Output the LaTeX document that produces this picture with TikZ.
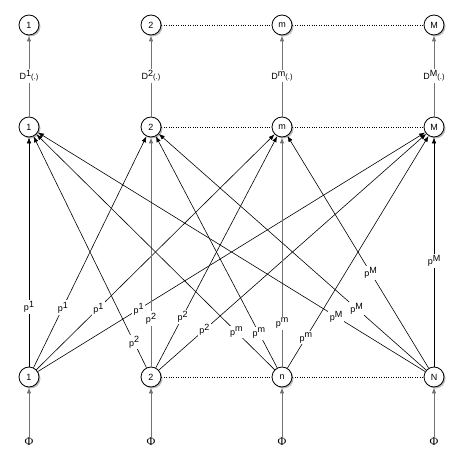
\documentclass[tikz,border=0pt]{standalone}
\usepackage{fontspec}
\setmainfont{Liberation Sans}
\newfontfamily\phifont{Liberation Serif}
\usepackage{tikz}
\usetikzlibrary{arrows.meta,shadows}
\newcommand{\wlab}[2]{#1\raisebox{3.2pt}{#2}}
\newcommand{\dlab}[1]{D\raisebox{3.2pt}{#1}{\fontsize{7.5}{8}\selectfont(.)}}
\tikzset{
  unitnode/.style={circle, draw, thick, fill=white, minimum size=20pt, inner sep=0pt, font=\fontsize{9}{10}\selectfont,
    drop shadow={shadow xshift=1.5pt, shadow yshift=-1.5pt, opacity=0.45, fill=black!60}},
  flowarrow/.style={-{Latex[length=6pt,width=4.5pt]}, semithick},
  softarrow/.style={-{Latex[length=6pt,width=4.5pt]}, thick, draw=black!55},
  dotline/.style={dotted, thin},
  relabel/.style={font=\fontsize{9}{10}\selectfont, text=black, fill=white, inner sep=1.5pt},
  philabel/.style={font=\phifont\fontsize{12}{13}\selectfont, inner sep=0pt}
}

\begin{document}
\begin{tikzpicture}[x=1pt, y=-1pt]
      \useasboundingbox (0,0) rectangle (463,462);
      % top row
      \node[unitnode] (t1) at (29,25) {1};
      \node[unitnode] (t2) at (151,25) {2};
      \node[unitnode] (tm) at (282,25) {m};
      \node[unitnode] (tM) at (434,25) {M};
      % middle row
      \node[unitnode] (u1) at (29,127) {1};
      \node[unitnode] (u2) at (151,127) {2};
      \node[unitnode] (um) at (282,127) {m};
      \node[unitnode] (uM) at (434,127) {M};
      % bottom row
      \node[unitnode] (b1) at (29,377) {1};
      \node[unitnode] (b2) at (151,377) {2};
      \node[unitnode] (bn) at (282,377) {n};
      \node[unitnode] (bN) at (434,377) {N};
      % inputs
      \node[philabel] (f1) at (29,442) {Φ};
      \node[philabel] (f2) at (151,442) {Φ};
      \node[philabel] (fn) at (282,442) {Φ};
      \node[philabel] (fN) at (434,442) {Φ};
      \draw[softarrow] (f1) -- (b1);
      \draw[softarrow] (f2) -- (b2);
      \draw[softarrow] (fn) -- (bn);
      \draw[softarrow] (fN) -- (bN);
      % dotted rows
      \draw[dotline] (t2) -- (tm);
      \draw[dotline] (tm) -- (tM);
      \draw[dotline] (u2) -- (um);
      \draw[dotline] (um) -- (uM);
      \draw[dotline] (b2) -- (bn);
      \draw[dotline] (bn) -- (bN);
      % D(.) links
      \draw[softarrow] (u1) -- node[relabel, pos=0.5] {\dlab{1}} (t1);
      \draw[softarrow] (u2) -- node[relabel, pos=0.5] {\dlab{2}} (t2);
      \draw[softarrow] (um) -- node[relabel, pos=0.5] {\dlab{m}} (tm);
      \draw[softarrow] (uM) -- node[relabel, pos=0.5] {\dlab{M}} (tM);
      % weights from unit 1
      \draw[flowarrow] (b1) -- node[relabel, pos=0.26] {\wlab{p}{1}} (u1);
      \draw[flowarrow] (b1) -- node[relabel, pos=0.26] {\wlab{p}{1}} (u2);
      \draw[flowarrow] (b1) -- node[relabel, pos=0.26] {\wlab{p}{1}} (um);
      \draw[flowarrow] (b1) -- node[relabel, pos=0.26] {\wlab{p}{1}} (uM);
      % weights from unit 2
      \draw[flowarrow] (b2) -- node[relabel, pos=0.11] {\wlab{p}{2}} (u1);
      \draw[softarrow] (b2) -- node[relabel, pos=0.21] {\wlab{p}{2}} (u2);
      \draw[flowarrow] (b2) -- node[relabel, pos=0.22] {\wlab{p}{2}} (um);
      \draw[flowarrow] (b2) -- node[relabel, pos=0.17] {\wlab{p}{2}} (uM);
      % weights from unit n
      \draw[flowarrow] (bn) -- node[relabel, pos=0.16] {\wlab{p}{m}} (u1);
      \draw[flowarrow] (bn) -- node[relabel, pos=0.15] {\wlab{p}{m}} (u2);
      \draw[softarrow] (bn) -- node[relabel, pos=0.19] {\wlab{p}{m}} (um);
      \draw[flowarrow] (bn) -- node[relabel, pos=0.13] {\wlab{p}{m}} (uM);
      % weights from unit N
      \draw[flowarrow] (bN) -- node[relabel, pos=0.23] {\wlab{p}{M}} (u1);
      \draw[flowarrow] (bN) -- node[relabel, pos=0.26] {\wlab{p}{M}} (u2);
      \draw[flowarrow] (bN) -- node[relabel, pos=0.41] {\wlab{p}{M}} (um);
      \draw[flowarrow] (bN) -- node[relabel, pos=0.46] {\wlab{p}{M}} (uM);
    \end{tikzpicture}
\end{document}
